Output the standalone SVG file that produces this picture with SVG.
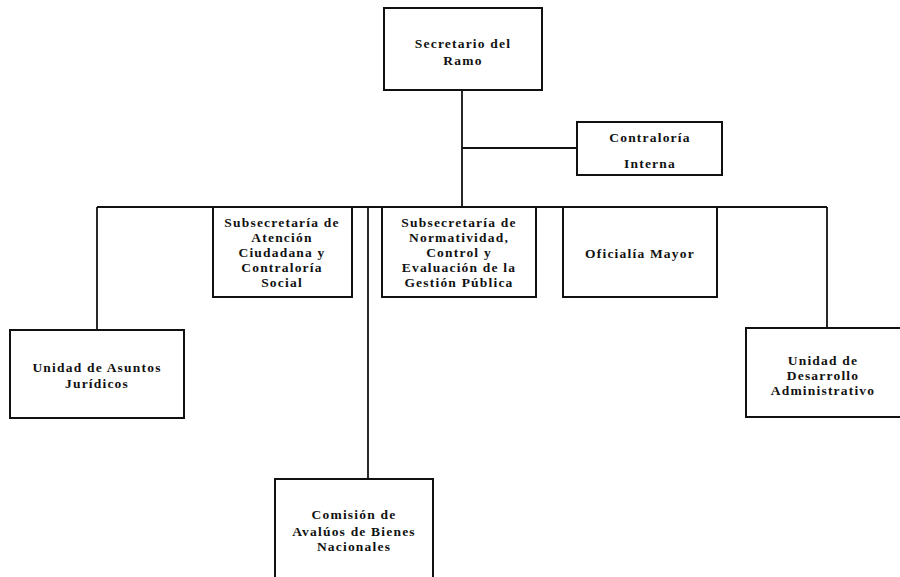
<svg xmlns="http://www.w3.org/2000/svg" width="900" height="577" viewBox="0 0 900 577">
<style>
.box{fill:#fff;stroke:#111;stroke-width:2}
.ln{stroke:#111;stroke-width:1.8;fill:none}
text{font-family:"Liberation Serif","Times New Roman",serif;font-weight:bold;font-size:13.5px;letter-spacing:1.2px;fill:#111;text-anchor:middle}
</style>
<rect width="900" height="577" fill="#fff"/>
<g id="connectors">
<line class="ln" x1="462" y1="90" x2="462" y2="207"/>
<line class="ln" x1="462" y1="148" x2="577" y2="148"/>
<line class="ln" x1="97" y1="207" x2="827" y2="207"/>
<line class="ln" x1="97" y1="207" x2="97" y2="330"/>
<line class="ln" x1="827" y1="207" x2="827" y2="328"/>
<line class="ln" x1="368" y1="207" x2="368" y2="479"/>
</g>
<g id="secretario">
<rect class="box" x="384" y="8" width="158" height="82"/>
<text x="463" y="48">Secretario del</text>
<text x="463" y="65">Ramo</text>
</g>
<g id="contraloria">
<rect class="box" x="577" y="122" width="145" height="53"/>
<text x="650" y="142">Contraloría</text>
<text x="650" y="168">Interna</text>
</g>
<g id="subsecretaria-atencion">
<rect class="box" x="213" y="207" width="139" height="90"/>
<text x="282" y="227">Subsecretaría de</text>
<text x="282" y="242">Atención</text>
<text x="282" y="257">Ciudadana y</text>
<text x="282" y="272">Contraloría</text>
<text x="282" y="287">Social</text>
</g>
<g id="subsecretaria-normatividad">
<rect class="box" x="382" y="207" width="154" height="90"/>
<text x="459" y="227">Subsecretaría de</text>
<text x="459" y="242">Normatividad,</text>
<text x="459" y="257">Control y</text>
<text x="459" y="272">Evaluación de la</text>
<text x="459" y="287">Gestión Pública</text>
</g>
<g id="oficialia">
<rect class="box" x="563" y="207" width="154" height="90"/>
<text x="640" y="258">Oficialía Mayor</text>
</g>
<g id="juridicos">
<rect class="box" x="10" y="330" width="174" height="88"/>
<text x="97" y="372">Unidad de Asuntos</text>
<text x="97" y="388">Jurídicos</text>
</g>
<g id="desarrollo">
<rect class="box" x="746" y="328" width="160" height="89"/>
<text x="823" y="365">Unidad de</text>
<text x="823" y="380">Desarrollo</text>
<text x="823" y="395">Administrativo</text>
</g>
<g id="comision">
<rect class="box" x="275" y="479" width="158" height="110"/>
<text x="354" y="519">Comisión de</text>
<text x="354" y="536">Avalúos de Bienes</text>
<text x="354" y="551">Nacionales</text>
</g>
</svg>
